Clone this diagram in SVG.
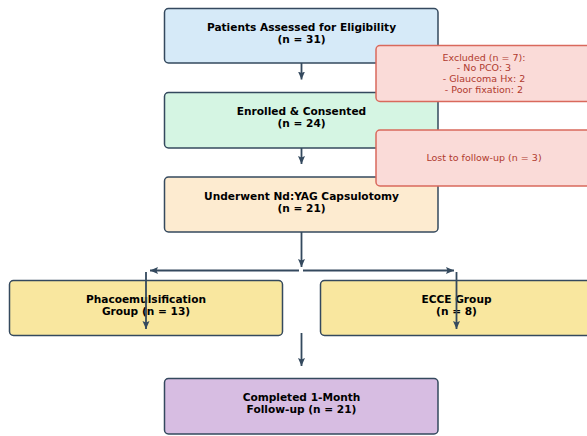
<svg xmlns="http://www.w3.org/2000/svg" width="587" height="436" viewBox="0 0 587 436">
<style>
.box{stroke:#34495e;stroke-width:1.5}
.t{font-family:"DejaVu Sans",sans-serif;font-weight:bold;font-size:10.6px;fill:#000;text-anchor:middle}
.rbox{fill:#fadbd8;stroke:#d9695c;stroke-width:1.5}
.rt{font-family:"DejaVu Sans",sans-serif;font-size:9.5px;fill:#b03a2e;text-anchor:middle}
.c{stroke:#34495e;stroke-width:1.8;fill:none;marker-end:url(#ah)}
</style>
<defs>
<marker id="ah" markerUnits="userSpaceOnUse" markerWidth="9" markerHeight="8" refX="8" refY="4" orient="auto">
<path d="M0,0.5 L8,4 L0,7.5 L1.5,4 z" fill="#34495e"/>
</marker>
</defs>
<rect width="587" height="436" fill="#fff"/>
<g id="assessed"><rect class="box" x="164.5" y="8.5" width="273.5" height="54.5" rx="4" fill="#d6eaf8"/>
<text class="t" x="301.5" y="30.8">Patients Assessed for Eligibility<tspan x="301.5" dy="12.4">(n = 31)</tspan></text></g>
<g id="enrolled"><rect class="box" x="164.5" y="92.5" width="273.5" height="55.5" rx="4" fill="#d5f5e3"/>
<text class="t" x="301.5" y="114.8">Enrolled &amp; Consented<tspan x="301.5" dy="12.4">(n = 24)</tspan></text></g>
<g id="yag"><rect class="box" x="164.5" y="177" width="273.5" height="55" rx="4" fill="#fdebd0"/>
<text class="t" x="301.5" y="199.6">Underwent Nd:YAG Capsulotomy<tspan x="301.5" dy="12.4">(n = 21)</tspan></text></g>
<g id="phaco"><rect class="box" x="9.5" y="280.5" width="273" height="55" rx="4" fill="#f9e79f"/>
<text class="t" x="146" y="302.8">Phacoemulsification<tspan x="146" dy="12.4">Group (n = 13)</tspan></text></g>
<g id="ecce"><rect class="box" x="320.5" y="280.5" width="273" height="55" rx="4" fill="#f9e79f"/>
<text class="t" x="456.5" y="302.8">ECCE Group<tspan x="456.5" dy="12.4">(n = 8)</tspan></text></g>
<g id="completed"><rect class="box" x="164.5" y="378.5" width="273.5" height="55.5" rx="4" fill="#d7bde2"/>
<text class="t" x="301.5" y="401">Completed 1-Month<tspan x="301.5" dy="12.4">Follow-up (n = 21)</tspan></text></g>
<g id="connectors">
<path class="c" d="M301.5,63 V79.5"/>
<path class="c" d="M301.5,148 V164"/>
<path class="c" d="M301.5,232 V267"/>
<path class="c" d="M299,270.5 H150"/>
<path class="c" d="M303,270.5 H454"/>
<path class="c" d="M146,272 V329"/>
<path class="c" d="M456.5,272 V329"/>
<path class="c" d="M301.5,333 V366"/>
</g>
<g id="excluded"><rect class="rbox" x="376" y="45.5" width="218" height="56" rx="4"/>
<text class="rt" x="484" y="60.5">Excluded (n = 7):<tspan x="484" dy="10.7">- No PCO: 3</tspan><tspan x="484" dy="10.7">- Glaucoma Hx: 2</tspan><tspan x="484" dy="10.7">- Poor fixation: 2</tspan></text></g>
<g id="lost"><rect class="rbox" x="376" y="130" width="218" height="56" rx="4"/>
<text class="rt" x="484" y="161">Lost to follow-up (n = 3)</text></g>
</svg>
